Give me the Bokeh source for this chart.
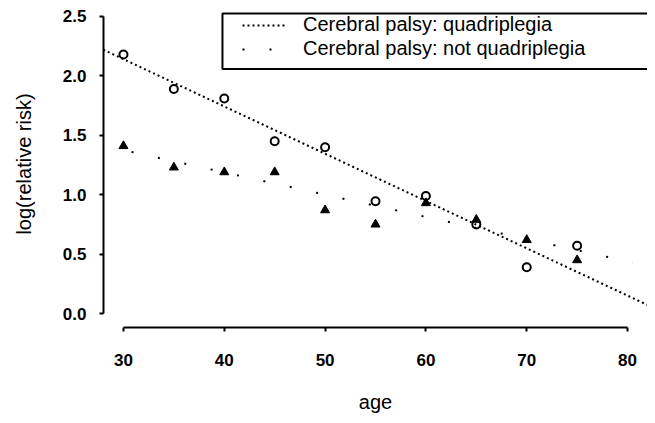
from bokeh.plotting import figure
from bokeh.models import Range1d, FixedTicker, Legend, LegendItem, BoxAnnotation
from bokeh.embed import file_html
from bokeh.resources import INLINE

# ---- data ----
ages = [30, 35, 40, 45, 50, 55, 60, 65, 70, 75]
quadriplegia = [2.18, 1.89, 1.81, 1.45, 1.40, 0.945, 0.99, 0.75, 0.39, 0.57]
not_quadriplegia = [1.41, 1.23, 1.19, 1.19, 0.87, 0.75, 0.93, 0.79, 0.62, 0.45]

fit_quad_age = [28.0, 82.8]
fit_quad = [2.22, 0.04]
fit_not_age = [30.8, 80.5]
fit_not = [1.36, 0.43]

x_ticks = [30, 40, 50, 60, 70, 80]
x_tick_labels = ["30", "40", "50", "60", "70", "80"]
y_ticks = [0.0, 0.5, 1.0, 1.5, 2.0, 2.5]
y_tick_labels = ["0.0", "0.5", "1.0", "1.5", "2.0", "2.5"]
legend_labels = ["Cerebral palsy: quadriplegia", "Cerebral palsy: not quadriplegia"]

FONT = "Liberation Sans"

p = figure(width=647, height=415,
           x_range=Range1d(28.02, 81.98), y_range=Range1d(-0.117, 2.634),
           output_backend="svg", toolbar_location=None,
           min_border_left=103, min_border_right=0,
           min_border_top=0, min_border_bottom=86)
p.outline_line_color = None
p.grid.visible = False
p.background_fill_color = "white"

for ax in (p.xaxis[0], p.yaxis[0]):
    ax.axis_line_width = 2
    ax.axis_line_color = "black"
    ax.major_tick_line_width = 2
    ax.major_tick_in = 0
    ax.major_tick_out = 4
    ax.minor_tick_line_color = None
    ax.major_label_text_font = FONT
    ax.major_label_text_font_size = "17px"
    ax.major_label_text_font_style = "bold"
    ax.major_label_text_color = "black"
    ax.axis_label_text_font = FONT
    ax.axis_label_text_font_size = "20px"
    ax.axis_label_text_font_style = "normal"
    ax.axis_label_text_color = "black"

p.xaxis.bounds = (x_ticks[0], x_ticks[-1])
p.yaxis.bounds = (y_ticks[0], y_ticks[-1])
p.xaxis.ticker = FixedTicker(ticks=x_ticks)
p.yaxis.ticker = FixedTicker(ticks=y_ticks)
p.xaxis.major_label_overrides = dict(zip(x_ticks, x_tick_labels))
p.yaxis.major_label_overrides = dict(zip(y_ticks, y_tick_labels))
p.xaxis.axis_label = "age"
p.yaxis.axis_label = "log(relative risk)"
p.xaxis.major_label_standoff = 22
p.yaxis.major_label_standoff = 13
p.xaxis.axis_label_standoff = 22
p.yaxis.axis_label_standoff = 25

r_q = p.line(fit_quad_age, fit_quad, line_color="black", line_width=2, line_dash="2 3")
r_n = p.line(fit_not_age, fit_not, line_color="black", line_width=2, line_dash="2 25")

p.scatter(ages, quadriplegia, marker="circle", size=8, fill_color=None,
          line_color="black", line_width=2)
p.scatter(ages, not_quadriplegia, marker="triangle", size=9, fill_color="black",
          line_color="black", line_width=1)

# legend frame (open on the right, as in the reference)
legend_box = BoxAnnotation(left=39.82, right=83.0, top=2.525, bottom=2.057,
                           fill_alpha=0, line_color="black", line_width=2,
                           line_alpha=1)
p.add_layout(legend_box)

# one legend per entry so the two rows sit as tightly as in the reference
for renderer, label, y_loc in ((r_q, legend_labels[0], 291), (r_n, legend_labels[1], 267)):
    lg = Legend(items=[LegendItem(label=label, renderers=[renderer])],
                location=(139, y_loc))
    lg.border_line_color = None
    lg.background_fill_alpha = 0
    lg.label_text_font = FONT
    lg.label_text_font_size = "20px"
    lg.label_text_color = "black"
    lg.label_standoff = 18
    lg.glyph_width = 43
    lg.glyph_height = 14
    lg.label_height = 14
    lg.padding = 0
    lg.margin = 0
    lg.spacing = 0
    p.add_layout(lg)

open("out.html", "w").write(file_html(p, INLINE))
